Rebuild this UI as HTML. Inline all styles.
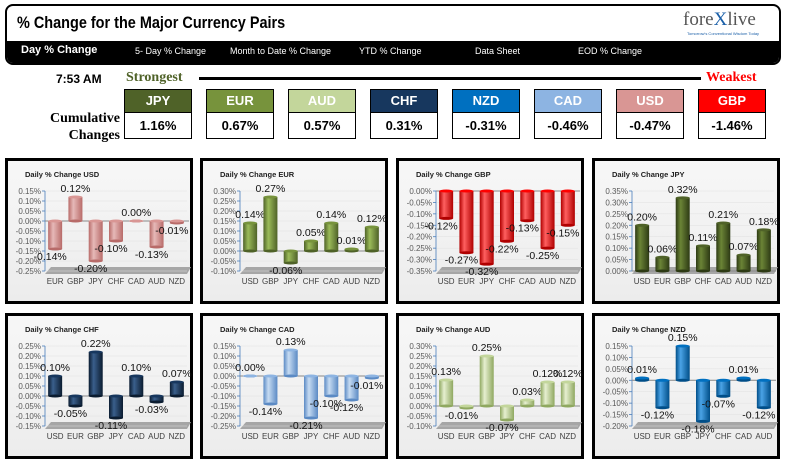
<!DOCTYPE html>
<html><head><meta charset="utf-8"><style>
body{margin:0;width:790px;height:463px;background:#fff;font-family:"Liberation Sans",sans-serif;overflow:hidden;position:relative}
.abs{position:absolute}
#hdr{left:5px;top:4px;width:772px;height:57px;border:2px solid #000;border-radius:8px;overflow:hidden;background:#fff}
#band{left:0;top:35px;width:772px;height:22px;background:#000}
.nav{position:absolute;top:5px;color:#fff;font-size:9px}
.box{position:absolute;width:66px;border:1px solid #000;text-align:center;font-weight:bold;font-family:"Liberation Sans Narrow","Liberation Sans",sans-serif}
.bh{height:22px;line-height:22px;color:#fff;font-size:13px;border-bottom:1px solid #000}
.bv{height:25px;line-height:25px;font-size:13px;background:#fff;color:#000}
</style></head><body>
<div id="hdr" class="abs">
<div class="abs" style="left:10px;top:7px;font-size:17px;font-weight:bold;transform:scaleX(0.85);transform-origin:left">% Change for the Major Currency Pairs</div>
<div class="abs" style="left:676px;top:3px;font-family:'Liberation Serif',serif;font-size:19px;color:#555">fore<span style="color:#1a5fa8">X</span>live</div>
<div class="abs" style="left:680px;top:25px;font-size:4px;color:#1a5fa8">Tomorrow's Conventional Wisdom Today</div>
<div id="band" class="abs">
<span class="nav" style="left:14px;top:3px;font-size:11px;font-weight:bold">Day % Change</span>
<span class="nav" style="left:128px">5- Day % Change</span>
<span class="nav" style="left:223px">Month to Date % Change</span>
<span class="nav" style="left:352px">YTD % Change</span>
<span class="nav" style="left:468px">Data Sheet</span>
<span class="nav" style="left:571px">EOD % Change</span>
</div></div>
<div class="abs" style="left:56px;top:72px;font-size:12px;font-weight:bold">7:53 AM</div>
<div class="abs" style="left:126px;top:70px;font-size:14px;font-weight:bold;color:#4f6228;font-family:'Liberation Serif',serif">Strongest</div>
<div class="abs" style="left:199px;top:77px;width:502px;height:3px;background:#000"></div>
<div class="abs" style="left:706px;top:70px;font-size:14px;font-weight:bold;color:#f00;font-family:'Liberation Serif',serif">Weakest</div>
<div class="abs" style="left:40px;top:110px;width:80px;text-align:right;font-size:14px;font-weight:bold;line-height:17px;font-family:'Liberation Serif',serif">Cumulative<br>Changes</div>
<div id="boxes"></div>
<div id="charts"></div>
<script>
const boxCur=["JPY","EUR","AUD","CHF","NZD","CAD","USD","GBP"];
const boxVal=["1.16%","0.67%","0.57%","0.31%","-0.31%","-0.46%","-0.47%","-1.46%"];
const boxCol=["#4f6228","#77933c","#c3d69b","#17375e","#0070c0","#8db4e2","#d99694","#ff0000"];
const bc=document.getElementById('boxes');
boxCur.forEach((c,i)=>{
 const d=document.createElement('div');d.className='box';
 
 
 d.style.left=(124+i*82)+'px';d.style.top='89px';
 d.innerHTML='<div class="bh" style="background:'+boxCol[i]+'">'+c+'</div><div class="bv">'+boxVal[i]+'</div>';
 bc.appendChild(d);
});

const chartNames=["USD","EUR","GBP","JPY","CHF","CAD","AUD","NZD"];
const cats=[["EUR","GBP","JPY","CHF","CAD","AUD","NZD"],["USD","GBP","JPY","CHF","CAD","AUD","NZD"],["USD","EUR","JPY","CHF","CAD","AUD","NZD"],["USD","EUR","GBP","CHF","CAD","AUD","NZD"],["USD","EUR","GBP","JPY","CAD","AUD","NZD"],["USD","EUR","GBP","JPY","CHF","AUD","NZD"],["USD","EUR","GBP","JPY","CHF","CAD","NZD"],["USD","EUR","GBP","JPY","CHF","CAD","AUD"]];
const valsUSD=[-0.14,0.12,-0.20,-0.10,0.00,-0.13,-0.01];
const valsEUR=[0.14,0.27,-0.06,0.05,0.14,0.01,0.12];
const valsGBP=[-0.12,-0.27,-0.32,-0.22,-0.13,-0.25,-0.15];
const valsJPY=[0.20,0.06,0.32,0.11,0.21,0.07,0.18];
const valsCHF=[0.10,-0.05,0.22,-0.11,0.10,-0.03,0.07];
const valsCAD=[0.00,-0.14,0.13,-0.21,-0.10,-0.12,-0.01];
const valsAUD=[0.13,-0.01,0.25,-0.07,0.03,0.12,0.12];
const valsNZD=[0.01,-0.12,0.15,-0.18,-0.07,0.01,-0.12];
const axisMax=[0.15,0.30,0.00,0.35,0.25,0.15,0.30,0.15];
const axisMin=[-0.25,-0.10,-0.35,0.00,-0.15,-0.25,-0.10,-0.20];
const allVals=[valsUSD,valsEUR,valsGBP,valsJPY,valsCHF,valsCAD,valsAUD,valsNZD];
const colors=[["#b86b69","#e6b9b8","#d99694"],["#4f6228","#9bbb59","#77933c"],["#b00000","#ff6060","#ff0000"],["#2d3a14","#6b8436","#4f6228"],["#0b1c30","#3a5f8c","#17375e"],["#5b8ac4","#c6dbf2","#8db4e2"],["#8fa860","#e6efd0","#c3d69b"],["#004e88","#4aa3e6","#0070c0"]];
const panelX=[5,200,396,592],panelY=[158,313];
const NS='http://www.w3.org/2000/svg';
function el(t,a,p){const e=document.createElementNS(NS,t);for(const k in a)e.setAttribute(k,a[k]);p.appendChild(e);return e;}
const holder=document.getElementById('charts');
chartNames.forEach((name,ci)=>{
 const L=panelX[ci%4],T=panelY[Math.floor(ci/4)];
 const svg=document.createElementNS(NS,'svg');
 
 
 svg.setAttribute('width',188);svg.setAttribute('height',146);
 svg.style.position='absolute';svg.style.left=L+'px';svg.style.top=T+'px';
 holder.appendChild(svg);
 const defs=el('defs',{},svg);
 const g=el('linearGradient',{id:'g'+ci,x1:0,x2:1,y1:0,y2:0},defs);
 el('stop',{offset:'0',"stop-color":colors[ci][0]},g);
 el('stop',{offset:'0.35',"stop-color":colors[ci][1]},g);
 el('stop',{offset:'1',"stop-color":colors[ci][0]},g);
 const bg=el('linearGradient',{id:'b'+ci,x1:0,x2:0,y1:0,y2:1},defs);
 el('stop',{offset:'0',"stop-color":'#f7f7f7'},bg);el('stop',{offset:'1',"stop-color":'#ececec'},bg);
 let r=el('rect',{x:1.5,y:1.5,width:185,height:143,fill:'url(#b'+ci+')',stroke:'#000','stroke-width':3},svg);
 
 let t=el('text',{x:20,y:19,'font-size':7.5,'font-weight':'bold',fill:'#222'},svg);t.textContent='Daily % Change '+name;
 
 const vmax=axisMax[ci],vmin=axisMin[ci],top=33,bot=113,ax=40,right=182;
 const y=v=>top+(vmax-v)/(vmax-vmin)*(bot-top);
 const step=(right-ax)/7,x=i=>ax+(i+0.5)*step;
 el('polygon',{points:`${ax},${bot+3} ${ax+6},${bot-4} ${right+4},${bot-4} ${right},${bot+3}`,fill:'#a6a6a6'},svg);
 for(let v=vmax;v>=vmin-1e-9;v-=0.05){
  const yy=y(v);
  el('line',{x1:ax-3,x2:ax,y1:yy,y2:yy,stroke:'#4a7ebb','stroke-width':0.8},svg);
  el('line',{x1:ax,x2:right,y1:yy,y2:yy,stroke:'#e0e0e0','stroke-width':0.5},svg);
  const tl=el('text',{x:ax-4,y:yy+3,'font-size':8,'text-anchor':'end',fill:'#595959'},svg);
  tl.textContent=(Math.abs(v)<1e-9?0:v).toFixed(2)+'%';
  
 }
 el('line',{x1:ax,x2:ax,y1:top,y2:bot,stroke:'#4a7ebb','stroke-width':0.8},svg);
 el('line',{x1:ax,x2:right+2,y1:y(0),y2:y(0),stroke:'#888','stroke-width':1},svg);
 const vals=allVals[ci];
 vals.forEach((v,i)=>{
  const cx=x(i),y0=y(0),y1=y(v),w=14;
  const gg=el('g',{},svg);
  
  
  const ya=Math.min(y0,y1),yb=Math.max(y0,y1);
  el('rect',{x:cx-w/2,y:ya,width:w,height:Math.max(yb-ya,0.5),fill:'url(#g'+ci+')'},gg);
  el('ellipse',{cx:cx,cy:yb,rx:w/2,ry:1.5,fill:colors[ci][0]},gg);
  el('ellipse',{cx:cx,cy:ya,rx:w/2,ry:1.5,fill:colors[ci][2]},gg);
  const lt=el('text',{x:v>=0?cx:cx-5,y:v>=0?y1-5:y1+11,'font-size':10.5,'text-anchor':'middle',fill:'#111'},svg);
  lt.textContent=v.toFixed(2)+'%';
  
  const cl=el('text',{x:cx,y:126,'font-size':8,'text-anchor':'middle',fill:'#404040'},svg);
  cl.textContent=cats[ci][i];
  
 });
});
</script>
</body></html>
